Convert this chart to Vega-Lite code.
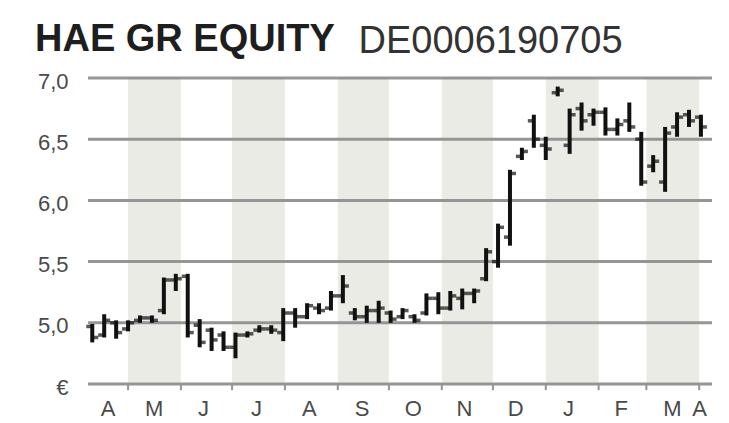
{
  "$schema": "https://vega.github.io/schema/vega-lite/v6.json",
  "width": 624,
  "height": 306,
  "autosize": {"type": "none"},
  "padding": {"left": 88, "top": 78, "right": 17, "bottom": 39},
  "background": "white",
  "config": {"view": {"stroke": null}, "font": "Liberation Sans"},
  "title": {
    "text": "HAE GR EQUITY",
    "anchor": "start",
    "frame": "group",
    "dx": -53,
    "offset": -67,
    "baseline": "alphabetic",
    "font": "Liberation Sans",
    "fontSize": 38,
    "fontWeight": "bold",
    "color": "#1e1e1e"
  },
  "datasets": {
    "months": [
      {"start": "2009-05-01", "end": "2009-06-01", "shaded": true},
      {"start": "2009-06-01", "end": "2009-07-01", "shaded": false},
      {"start": "2009-07-01", "end": "2009-08-01", "shaded": true},
      {"start": "2009-08-01", "end": "2009-09-01", "shaded": false},
      {"start": "2009-09-01", "end": "2009-10-01", "shaded": true},
      {"start": "2009-10-01", "end": "2009-11-01", "shaded": false},
      {"start": "2009-11-01", "end": "2009-12-01", "shaded": true},
      {"start": "2009-12-01", "end": "2010-01-01", "shaded": false},
      {"start": "2010-01-01", "end": "2010-02-01", "shaded": true},
      {"start": "2010-02-01", "end": "2010-03-01", "shaded": false},
      {"start": "2010-03-01", "end": "2010-04-01", "shaded": true},
      {"start": "2010-04-01", "end": "2010-04-08", "shaded": false}
    ],
    "grid": [
      {"level": 4.5}, {"level": 5.0}, {"level": 5.5}, {"level": 6.0}, {"level": 6.5}, {"level": 7.0}
    ],
    "prices": [
      {"date": "2009-04-10", "open": 4.97, "high": 4.99, "low": 4.84, "close": 4.88},
      {"date": "2009-04-17", "open": 4.90, "high": 5.07, "low": 4.88, "close": 5.02},
      {"date": "2009-04-24", "open": 5.00, "high": 5.02, "low": 4.87, "close": 4.92},
      {"date": "2009-05-01", "open": 4.95, "high": 5.02, "low": 4.93, "close": 5.00},
      {"date": "2009-05-08", "open": 5.02, "high": 5.06, "low": 5.00, "close": 5.04},
      {"date": "2009-05-15", "open": 5.04, "high": 5.06, "low": 5.00, "close": 5.02},
      {"date": "2009-05-22", "open": 5.10, "high": 5.37, "low": 5.07, "close": 5.35},
      {"date": "2009-05-29", "open": 5.35, "high": 5.40, "low": 5.26, "close": 5.36},
      {"date": "2009-06-05", "open": 5.38, "high": 5.40, "low": 4.88, "close": 4.92},
      {"date": "2009-06-12", "open": 4.98, "high": 5.03, "low": 4.80, "close": 4.84},
      {"date": "2009-06-19", "open": 4.94, "high": 4.96, "low": 4.77, "close": 4.86},
      {"date": "2009-06-26", "open": 4.90, "high": 4.93, "low": 4.77, "close": 4.80},
      {"date": "2009-07-03", "open": 4.80, "high": 4.92, "low": 4.71, "close": 4.90},
      {"date": "2009-07-10", "open": 4.90, "high": 4.93, "low": 4.88, "close": 4.91},
      {"date": "2009-07-17", "open": 4.94, "high": 4.98, "low": 4.92, "close": 4.95},
      {"date": "2009-07-24", "open": 4.95, "high": 4.98, "low": 4.91, "close": 4.94},
      {"date": "2009-07-31", "open": 4.92, "high": 5.12, "low": 4.85, "close": 5.08},
      {"date": "2009-08-07", "open": 5.08, "high": 5.12, "low": 4.96, "close": 5.05},
      {"date": "2009-08-14", "open": 5.05, "high": 5.16, "low": 5.03, "close": 5.14},
      {"date": "2009-08-21", "open": 5.12, "high": 5.16, "low": 5.07, "close": 5.10},
      {"date": "2009-08-28", "open": 5.12, "high": 5.26, "low": 5.10, "close": 5.22},
      {"date": "2009-09-04", "open": 5.22, "high": 5.39, "low": 5.16, "close": 5.30},
      {"date": "2009-09-11", "open": 5.08, "high": 5.12, "low": 5.02, "close": 5.05},
      {"date": "2009-09-18", "open": 5.05, "high": 5.14, "low": 5.00, "close": 5.10},
      {"date": "2009-09-25", "open": 5.10, "high": 5.18, "low": 5.00, "close": 5.12},
      {"date": "2009-10-02", "open": 5.08, "high": 5.10, "low": 5.00, "close": 5.03},
      {"date": "2009-10-09", "open": 5.05, "high": 5.12, "low": 5.03, "close": 5.10},
      {"date": "2009-10-16", "open": 5.05, "high": 5.07, "low": 5.00, "close": 5.02},
      {"date": "2009-10-23", "open": 5.08, "high": 5.24, "low": 5.06, "close": 5.20},
      {"date": "2009-10-30", "open": 5.20, "high": 5.25, "low": 5.07, "close": 5.12},
      {"date": "2009-11-06", "open": 5.12, "high": 5.26, "low": 5.10, "close": 5.22},
      {"date": "2009-11-13", "open": 5.20, "high": 5.28, "low": 5.11, "close": 5.24},
      {"date": "2009-11-20", "open": 5.24, "high": 5.28, "low": 5.16, "close": 5.26},
      {"date": "2009-11-27", "open": 5.36, "high": 5.61, "low": 5.34, "close": 5.58},
      {"date": "2009-12-04", "open": 5.50, "high": 5.81, "low": 5.45, "close": 5.78},
      {"date": "2009-12-11", "open": 5.70, "high": 6.25, "low": 5.63, "close": 6.22},
      {"date": "2009-12-18", "open": 6.36, "high": 6.43, "low": 6.33, "close": 6.40},
      {"date": "2009-12-25", "open": 6.65, "high": 6.70, "low": 6.43, "close": 6.50},
      {"date": "2010-01-01", "open": 6.45, "high": 6.52, "low": 6.33, "close": 6.42},
      {"date": "2010-01-08", "open": 6.88, "high": 6.93, "low": 6.85, "close": 6.90},
      {"date": "2010-01-15", "open": 6.45, "high": 6.75, "low": 6.38, "close": 6.70},
      {"date": "2010-01-22", "open": 6.75, "high": 6.80, "low": 6.57, "close": 6.65},
      {"date": "2010-01-29", "open": 6.70, "high": 6.75, "low": 6.61, "close": 6.72},
      {"date": "2010-02-05", "open": 6.72, "high": 6.76, "low": 6.53, "close": 6.58},
      {"date": "2010-02-12", "open": 6.58, "high": 6.67, "low": 6.53, "close": 6.62},
      {"date": "2010-02-19", "open": 6.65, "high": 6.80, "low": 6.56, "close": 6.60},
      {"date": "2010-02-26", "open": 6.50, "high": 6.56, "low": 6.12, "close": 6.15},
      {"date": "2010-03-05", "open": 6.28, "high": 6.37, "low": 6.23, "close": 6.32},
      {"date": "2010-03-12", "open": 6.15, "high": 6.60, "low": 6.07, "close": 6.55},
      {"date": "2010-03-19", "open": 6.60, "high": 6.72, "low": 6.52, "close": 6.68},
      {"date": "2010-03-26", "open": 6.70, "high": 6.74, "low": 6.60, "close": 6.65},
      {"date": "2010-04-02", "open": 6.68, "high": 6.70, "low": 6.52, "close": 6.60}
    ]
  },
  "layer": [
    {
      "data": {"name": "months"},
      "transform": [{"filter": "datum.shaded"}],
      "mark": {"type": "rect", "color": "#ebebe6"},
      "encoding": {
        "x": {"field": "start", "type": "temporal", "title": null,
              "scale": {"type": "utc", "domain": [{"year": 2009, "month": 4, "date": 7, "hours": 12, "utc": true}, {"year": 2010, "month": 4, "date": 8, "hours": 12, "utc": true}]},
              "axis": {
                "title": null,
                "values": [
                  {"year": 2009, "month": 4, "date": 19, "utc": true},
                  {"year": 2009, "month": 5, "date": 16, "utc": true},
                  {"year": 2009, "month": 6, "date": 14, "utc": true},
                  {"year": 2009, "month": 7, "date": 15, "utc": true},
                  {"year": 2009, "month": 8, "date": 15, "utc": true},
                  {"year": 2009, "month": 9, "date": 15, "utc": true},
                  {"year": 2009, "month": 10, "date": 15, "utc": true},
                  {"year": 2009, "month": 11, "date": 14, "utc": true},
                  {"year": 2009, "month": 12, "date": 14, "utc": true},
                  {"year": 2010, "month": 1, "date": 14, "utc": true},
                  {"year": 2010, "month": 2, "date": 14, "utc": true},
                  {"year": 2010, "month": 3, "date": 16, "utc": true},
                  {"year": 2010, "month": 4, "date": 1, "utc": true}
                ],
                "labelExpr": "substring(utcFormat(datum.value, '%B'), 0, 1)",
                "labelFlush": false,
                "labelOverlap": false,
                "labelFont": "Liberation Sans",
                "labelFontSize": 22,
                "labelColor": "#4a4a4a",
                "labelPadding": 14,
                "labelAlign": "center",
                "ticks": false,
                "domain": false,
                "grid": false
              }},
        "x2": {"field": "end"}
      }
    },
    {
      "data": {"name": "grid"},
      "mark": {"type": "rule", "color": "#959595", "strokeWidth": 3},
      "encoding": {
        "y": {"field": "level", "type": "quantitative", "title": "DE0006190705",
              "scale": {"domain": [4.5, 7.0], "nice": false, "zero": false},
              "axis": {
                "title": "DE0006190705",
                "titleAngle": 0,
                "titleX": 270,
                "titleY": -26,
                "titleAlign": "left",
                "titleBaseline": "alphabetic",
                "titleFont": "Liberation Sans",
                "titleFontSize": 38,
                "titleFontWeight": "normal",
                "titleColor": "#333333",
                "values": [4.5, 5.0, 5.5, 6.0, 6.5, 7.0],
                "labelExpr": "datum.value == 4.5 ? '€' : replace(format(datum.value, '.1f'), '.', ',')",
                "labelFont": "Liberation Sans",
                "labelFontSize": 22,
                "labelColor": "#4a4a4a",
                "labelPadding": 20,
                "labelAlign": "right",
                "labelBaseline": "middle",
                "labelOffset": 3,
                "labelFlush": false,
                "labelOverlap": false,
                "ticks": false,
                "domain": false,
                "grid": false
              }}
      }
    },
    {
      "data": {"name": "months"},
      "mark": {"type": "rule", "color": "#959595", "strokeWidth": 2},
      "encoding": {
        "x": {"field": "start", "type": "temporal", "title": null},
        "y": {"datum": 4.5, "type": "quantitative", "title": "DE0006190705"},
        "y2": {"datum": 4.45}
      }
    },
    {
      "data": {"name": "prices"},
      "mark": {"type": "rule", "color": "#111111", "strokeWidth": 4},
      "encoding": {
        "x": {"field": "date", "type": "temporal", "title": null},
        "y": {"field": "low", "type": "quantitative", "title": "DE0006190705"},
        "y2": {"field": "high"}
      }
    },
    {
      "data": {"name": "prices"},
      "mark": {"type": "tick", "orient": "horizontal", "color": "#111111", "size": 5, "thickness": 3.5, "xOffset": -3.5},
      "encoding": {
        "x": {"field": "date", "type": "temporal", "title": null},
        "y": {"field": "open", "type": "quantitative", "title": "DE0006190705"}
      }
    },
    {
      "data": {"name": "prices"},
      "mark": {"type": "tick", "orient": "horizontal", "color": "#111111", "size": 5, "thickness": 3.5, "xOffset": 3.5},
      "encoding": {
        "x": {"field": "date", "type": "temporal", "title": null},
        "y": {"field": "close", "type": "quantitative", "title": "DE0006190705"}
      }
    }
  ]
}
